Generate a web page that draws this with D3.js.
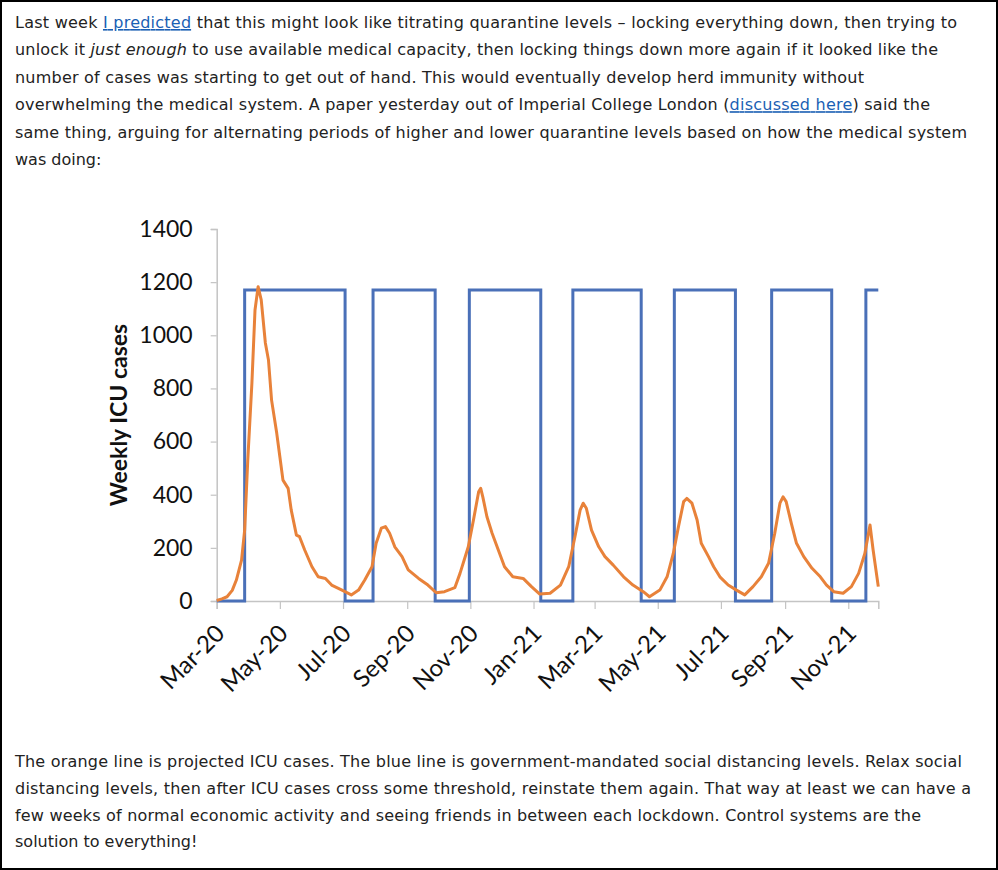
<!DOCTYPE html>
<html><head><meta charset="utf-8">
<script src="https://cdn.jsdelivr.net/npm/d3@7"></script>
<style>
html,body{margin:0;padding:0;background:#fff;}
svg{display:block;}
</style></head>
<body>
<script>
// ---------- data ----------
const yTicks = [0, 200, 400, 600, 800, 1000, 1200, 1400];
const xTickLabels = ["Mar-20","May-20","Jul-20","Sep-20","Nov-20","Jan-21","Mar-21","May-21","Jul-21","Sep-21","Nov-21"];
const xTickDates = ["2020-03-01","2020-05-01","2020-07-01","2020-09-01","2020-11-01","2021-01-01","2021-03-01","2021-05-01","2021-07-01","2021-09-01","2021-11-01"];
const xDomain = ["2020-03-01","2021-11-30"];
const yTitle = "Weekly ICU cases";

// blue: social distancing level switch points (step after)
const distDates = ["2020-03-01","2020-03-28","2020-07-03","2020-07-30","2020-09-28","2020-10-31","2021-01-08","2021-02-08","2021-04-15","2021-05-17","2021-07-15","2021-08-19","2021-10-16","2021-11-18","2021-11-30"];
const distLevels = [0,1170,0,1170,0,1170,0,1170,0,1170,0,1170,0,1170,1170];

// orange: projected weekly ICU cases
const icuDates = [
 "2020-03-01","2020-03-06","2020-03-11","2020-03-16","2020-03-20","2020-03-25","2020-03-28","2020-03-31","2020-04-04","2020-04-07","2020-04-10","2020-04-13","2020-04-17","2020-04-20","2020-04-23","2020-04-28","2020-05-01","2020-05-04","2020-05-09","2020-05-12","2020-05-17","2020-05-20","2020-05-25","2020-06-01","2020-06-07","2020-06-14","2020-06-20","2020-06-30","2020-07-09","2020-07-16","2020-07-22","2020-07-29","2020-08-02","2020-08-07","2020-08-11","2020-08-15","2020-08-20","2020-08-27","2020-09-02","2020-09-12","2020-09-21","2020-09-29","2020-10-07","2020-10-17","2020-10-22","2020-10-30","2020-11-04","2020-11-09","2020-11-11","2020-11-13","2020-11-17","2020-11-22","2020-11-28","2020-12-04","2020-12-12","2020-12-22","2020-12-30",
 "2021-01-07","2021-01-17","2021-01-27","2021-02-04","2021-02-10","2021-02-15","2021-02-18","2021-02-21","2021-02-26","2021-03-05","2021-03-11","2021-03-19","2021-03-29","2021-04-07","2021-04-17","2021-04-23","2021-05-03","2021-05-10","2021-05-16","2021-05-21","2021-05-26","2021-05-29","2021-06-03","2021-06-08","2021-06-12","2021-06-19","2021-06-24","2021-06-30","2021-07-08","2021-07-16","2021-07-24","2021-08-01","2021-08-09","2021-08-16","2021-08-22","2021-08-27","2021-08-30","2021-09-02","2021-09-07","2021-09-12","2021-09-19","2021-09-27","2021-10-05","2021-10-11","2021-10-18","2021-10-27","2021-11-04","2021-11-11","2021-11-17","2021-11-22","2021-11-25","2021-11-30"];
const icuValues = [
 2,8,16,40,79,154,267,530,820,1095,1183,1133,971,907,756,631,543,455,424,342,248,242,192,129,91,85,60,41,23,41,79,129,217,274,280,255,204,167,117,85,60,31,35,50,104,204,305,411,424,392,317,255,192,129,91,85,54,
 26,29,60,129,242,342,368,349,267,204,167,135,91,60,35,16,41,91,179,280,374,386,368,305,217,167,129,91,60,41,23,54,91,142,255,368,392,374,292,217,167,123,91,60,35,29,54,104,179,286,192,54];

const topLines = [
  [["Last week ",""],["I predicted","link"],[" that this might look like titrating quarantine levels \u2013 locking everything down, then trying to",""]],
  [["unlock it ",""],["just enough","it"],[" to use available medical capacity, then locking things down more again if it looked like the",""]],
  [["number of cases was starting to get out of hand. This would eventually develop herd immunity without",""]],
  [["overwhelming the medical system. A paper yesterday out of Imperial College London (",""],["discussed here","link"],[") said the",""]],
  [["same thing, arguing for alternating periods of higher and lower quarantine levels based on how the medical system",""]],
  [["was doing:",""]]
];
const topWidths = [942, 923, 849, 915, 952, null];
const bottomLines = [
  "The orange line is projected ICU cases. The blue line is government-mandated social distancing levels. Relax social",
  "distancing levels, then after ICU cases cross some threshold, reinstate them again. That way at least we can have a",
  "few weeks of normal economic activity and seeing friends in between each lockdown. Control systems are the",
  "solution to everything!"
];
const bottomWidths = [947, 956, 906, null];

// ---------- drawing ----------
const W = 998, H = 870;
const svg = d3.select("body").append("svg").attr("width", W).attr("height", H);
svg.append("rect").attr("x",1).attr("y",1).attr("width",W-2).attr("height",H-2)
  .attr("fill","#fff").attr("stroke","#000").attr("stroke-width",2);

const textFont = "'DejaVu Sans', Verdana, sans-serif";
const textSize = 16;
const textColor = "#222";
const linkColor = "#1a5fb4";

function drawLines(lines, widths, y0, dy) {
  lines.forEach((line, i) => {
    const t = svg.append("text").attr("x", 15).attr("y", y0 + i*dy)
      .attr("font-family", textFont).attr("font-size", textSize).attr("fill", textColor)
      .style("white-space","pre");
    const segs = typeof line === "string" ? [[line,""]] : line;
    segs.forEach(([s, kind]) => {
      const ts = t.append("tspan").text(s);
      if (kind === "link") ts.attr("fill", linkColor).attr("text-decoration","underline");
      if (kind === "it") ts.attr("font-style","italic");
    });
    if (widths[i]) t.attr("textLength", widths[i]).attr("lengthAdjust", "spacing");
  });
}
drawLines(topLines, topWidths, 28, 27.4);
drawLines(bottomLines, bottomWidths, 767, 26.8);

// chart
const parse = d3.utcParse("%Y-%m-%d");
const x = d3.scaleUtc().domain(xDomain.map(parse)).range([216.7, 878.3]);
const y = d3.scaleLinear().domain([0, 1400]).range([601, 229]);

const axisColor = "#c4c4c4";
const labelFont = "Lato, 'Open Sans', sans-serif";

// y axis
const yAxis = svg.append("g").attr("transform", `translate(${x.range()[0]},0)`)
  .call(d3.axisLeft(y).tickValues(yTicks).tickSize(6).tickPadding(18).tickFormat(d3.format("d")));
yAxis.select(".domain").attr("stroke", axisColor).attr("stroke-width", 1.5);
yAxis.selectAll(".tick line").attr("stroke", axisColor).attr("stroke-width", 1.2);
yAxis.selectAll(".tick text").attr("font-family", labelFont).attr("font-size", 23).attr("fill", "#111");

// x axis
const xAxis = svg.append("g").attr("transform", `translate(0,${y(0)})`)
  .call(d3.axisBottom(x).tickValues(xTickDates.map(parse)).tickSize(8)
    .tickFormat((d,i) => xTickLabels[i]));
xAxis.select(".domain").attr("stroke", axisColor).attr("stroke-width", 1.5);
xAxis.selectAll(".tick line").attr("stroke", axisColor).attr("stroke-width", 1.2);
xAxis.selectAll(".tick text")
  .attr("font-family", labelFont).attr("font-size", 24).attr("fill", "#111")
  .attr("text-anchor", "end").attr("dy", null).attr("y", 0)
  .attr("transform", "translate(9,34) rotate(-45)");

// y title
svg.append("text")
  .attr("transform", `translate(127,${y(700)}) rotate(-90)`)
  .attr("text-anchor", "middle")
  .attr("font-family", labelFont).attr("font-weight", "bold").attr("font-size", 23)
  .attr("fill", "#111").text(yTitle);

// blue step line
const distData = distDates.map((d,i) => ({date: parse(d), v: distLevels[i]}));
svg.append("path").datum(distData)
  .attr("fill","none").attr("stroke","#4a70b8").attr("stroke-width",3)
  .attr("d", d3.line().x(d => x(d.date)).y(d => y(d.v)).curve(d3.curveStepAfter));

// orange line
const icuData = icuDates.map((d,i) => ({date: parse(d), v: icuValues[i]}));
svg.append("path").datum(icuData)
  .attr("fill","none").attr("stroke","#e8823a").attr("stroke-width",3)
  .attr("stroke-linejoin","round")
  .attr("d", d3.line().x(d => x(d.date)).y(d => y(d.v)));
</script>
</body></html>
